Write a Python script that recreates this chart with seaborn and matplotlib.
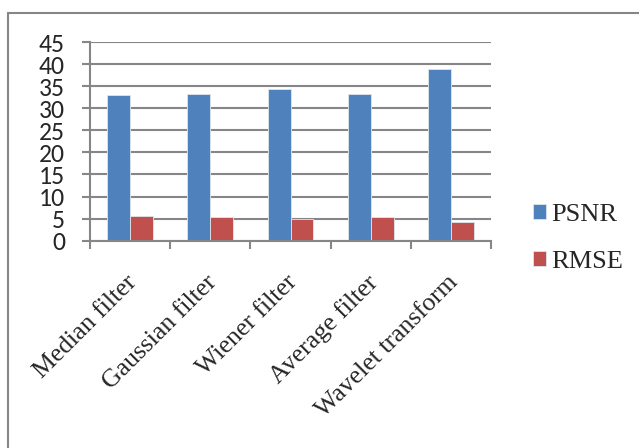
import matplotlib
matplotlib.use("Agg")
import matplotlib.pyplot as plt
import matplotlib.transforms as mtransforms
from matplotlib import font_manager as fm
from matplotlib.lines import Line2D
import seaborn as sns
import pandas as pd

methods = ["Median filter", "Gaussian filter", "Wiener filter", "Average filter", "Wavelet transform"]
psnr = [33.1, 33.3, 34.25, 33.3, 38.8]
rmse = [5.6, 5.45, 4.9, 5.45, 4.15]
yticks = [0, 5, 10, 15, 20, 25, 30, 35, 40, 45]

df = pd.DataFrame({
    "method": methods * 2,
    "value": psnr + rmse,
    "metric": ["PSNR"] * len(methods) + ["RMSE"] * len(methods),
})

sns.set_style("white")
plt.rcParams["font.family"] = ["Carlito", "DejaVu Sans"]

serif_lab = fm.FontProperties(family="Liberation Serif", size=18.5)
serif_leg = fm.FontProperties(family="Liberation Serif", size=19)
sans_tick = fm.FontProperties(family="Carlito", size=18.5)

fig = plt.figure(figsize=(6.39, 4.48), dpi=100)
ax = fig.add_axes([90 / 639, 1 - 240.7 / 448, (491 - 90) / 639, (240.7 - 42) / 448])

grid_c = "#868686"
sns.barplot(data=df, x="method", y="value", hue="metric", order=methods,
            palette=["#4F81BD", "#C0504D"], width=0.57, ax=ax,
            edgecolor="#dfe6f0", linewidth=0.6, saturation=1)

ax.set_xlim(-0.5, len(methods) - 0.5)
ax.set_ylim(0, 45)
ax.set_yticks(yticks)
ax.set_yticklabels([str(v) for v in yticks], fontproperties=sans_tick)
ax.yaxis.grid(True, color=grid_c, linewidth=1.5)
ax.set_axisbelow(True)
ax.set_xlabel("")
ax.set_ylabel("")
for s in ["top", "right"]:
    ax.spines[s].set_visible(False)
for s in ["left", "bottom"]:
    ax.spines[s].set_color(grid_c)
    ax.spines[s].set_linewidth(1.5)
ax.tick_params(axis="y", length=6, width=1.5, color=grid_c, pad=12, left=True)

# category labels at centers, tick marks at boundaries
ax.set_xticks(range(len(methods)))
ax.set_xticklabels(methods, rotation=45, ha="right", rotation_mode="anchor",
                   fontproperties=serif_lab)
ax.tick_params(axis="x", length=0, pad=22)
offset = mtransforms.ScaledTranslation(-3 / 72, 0, fig.dpi_scale_trans)
for lab in ax.get_xticklabels():
    lab.set_transform(lab.get_transform() + offset)
ax.set_xticks([i - 0.5 for i in range(len(methods) + 1)], minor=True)
ax.tick_params(axis="x", which="minor", length=6, width=1.5, color=grid_c, bottom=True)

handles, labels = ax.get_legend_handles_labels()
if ax.get_legend() is not None:
    ax.get_legend().remove()
fig.legend(handles, labels, loc="center left", bbox_to_anchor=(533 / 639, 1 - 238.5 / 448),
           frameon=False, prop=serif_leg,
           handlelength=0.49, handleheight=0.49, handletextpad=0.2,
           labelspacing=0.96, borderpad=0, borderaxespad=0)

# outer frame (top and left edges)
fig.add_artist(Line2D([8 / 639, 1], [1 - 13 / 448] * 2, transform=fig.transFigure,
                      color=grid_c, linewidth=1.5))
fig.add_artist(Line2D([8 / 639] * 2, [1 - 13 / 448, 0], transform=fig.transFigure,
                      color=grid_c, linewidth=1.5))

fig.savefig("out.png", dpi=100)
